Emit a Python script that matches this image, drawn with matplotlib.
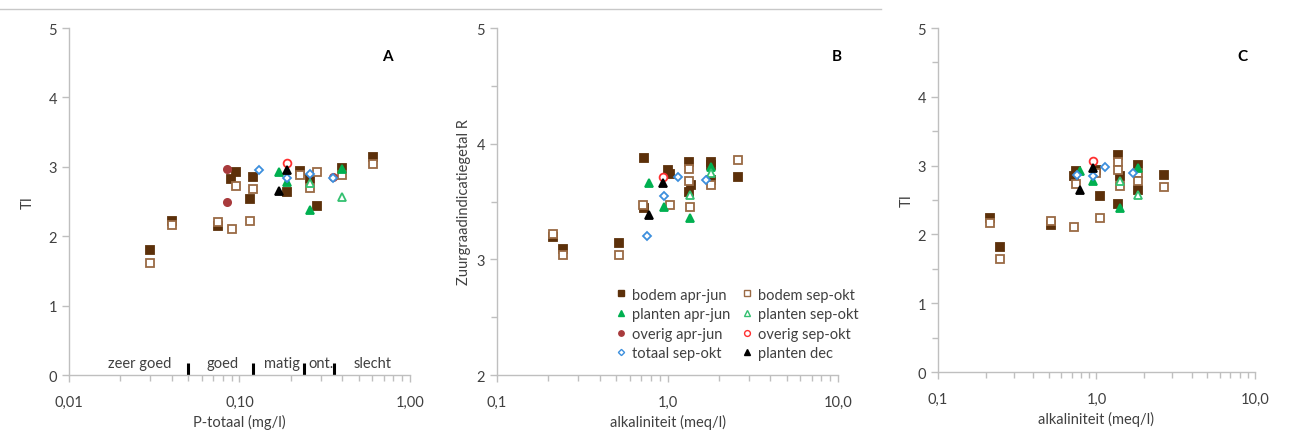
import matplotlib
matplotlib.use("Agg")
import matplotlib.pyplot as plt
from matplotlib.ticker import FixedLocator, MultipleLocator, LogLocator, NullFormatter
from matplotlib.lines import Line2D

plt.rcParams['font.family'] = ['Lato', 'DejaVu Sans']

# ---- panel A: P-totaal (mg/l) vs TI ----
a_bodem_aj_x = [0.030, 0.040, 0.0745, 0.115, 0.12, 0.095, 0.089, 0.19, 0.225, 0.283, 0.26, 0.398, 0.61]
a_bodem_aj_y = [1.80, 2.22, 2.14, 2.54, 2.85, 2.92, 2.82, 2.63, 2.94, 2.44, 2.83, 2.99, 3.14]
a_bodem_so_x = [0.030, 0.040, 0.0745, 0.090, 0.115, 0.12, 0.095, 0.225, 0.26, 0.283, 0.398, 0.61]
a_bodem_so_y = [1.62, 2.16, 2.20, 2.11, 2.22, 2.68, 2.73, 2.88, 2.69, 2.92, 2.88, 3.04]
a_plant_aj_x = [0.17, 0.19, 0.26, 0.398]
a_plant_aj_y = [2.92, 2.78, 2.38, 2.97]
a_plant_so_x = [0.26, 0.398]
a_plant_so_y = [2.76, 2.56]
a_overig_aj_x = [0.085, 0.085, 0.356]
a_overig_aj_y = [2.97, 2.50, 2.86]
a_overig_so_x = [0.19]
a_overig_so_y = [3.05]
a_totaal_x = [0.13, 0.19, 0.26, 0.356]
a_totaal_y = [2.96, 2.84, 2.90, 2.84]
a_plant_dec_x = [0.17, 0.19]
a_plant_dec_y = [2.65, 2.95]

# class boundaries P-totaal
klasse_grens = [0.05, 0.12, 0.24, 0.36]
klasse_namen = ['zeer goed', 'goed', 'matig', 'ont.', 'slecht']
klasse_pos = [0.026, 0.08, 0.178, 0.3, 0.6]

# ---- panel B: alkaliniteit vs zuurgraadindicatiegetal R ----
b_bodem_aj_x = [0.214, 0.245, 0.52, 0.73, 0.73, 1.0, 1.04, 1.34, 1.38, 1.34, 1.79, 1.79, 1.79, 2.6]
b_bodem_aj_y = [3.19, 3.09, 3.14, 3.88, 3.44, 3.77, 3.74, 3.84, 3.64, 3.58, 3.84, 3.82, 3.69, 3.71]
b_bodem_so_x = [0.214, 0.245, 0.52, 0.72, 1.04, 1.34, 1.34, 1.36, 1.79, 2.6]
b_bodem_so_y = [3.22, 3.04, 3.04, 3.47, 3.47, 3.78, 3.68, 3.45, 3.64, 3.86]
b_plant_aj_x = [0.78, 0.95, 1.36, 1.79]
b_plant_aj_y = [3.66, 3.45, 3.36, 3.80]
b_plant_so_x = [1.36, 1.79]
b_plant_so_y = [3.56, 3.75]
b_overig_aj_x = []
b_overig_aj_y = []
b_overig_so_x = [0.94]
b_overig_so_y = [3.71]
b_totaal_x = [0.76, 0.95, 1.15, 1.68]
b_totaal_y = [3.20, 3.55, 3.71, 3.69]
b_plant_dec_x = [0.78, 0.94]
b_plant_dec_y = [3.38, 3.66]

# ---- panel C: alkaliniteit vs TI ----
c_bodem_aj_x = [0.214, 0.245, 0.52, 0.74, 0.72, 1.0, 1.05, 1.37, 1.40, 1.37, 1.84, 1.84, 2.67]
c_bodem_aj_y = [2.24, 1.81, 2.14, 2.92, 2.85, 2.94, 2.56, 3.16, 2.85, 2.44, 3.01, 2.65, 2.86]
c_bodem_so_x = [0.214, 0.245, 0.52, 0.72, 0.74, 1.0, 1.05, 1.37, 1.37, 1.40, 1.84, 1.84, 2.67]
c_bodem_so_y = [2.17, 1.64, 2.19, 2.11, 2.74, 2.89, 2.24, 3.05, 2.93, 2.70, 2.89, 2.77, 2.69]
c_plant_aj_x = [0.79, 0.955, 1.40, 1.84]
c_plant_aj_y = [2.92, 2.77, 2.39, 2.97]
c_plant_so_x = [1.40, 1.84]
c_plant_so_y = [2.77, 2.57]
c_overig_aj_x = []
c_overig_aj_y = []
c_overig_so_x = [0.955]
c_overig_so_y = [3.06]
c_totaal_x = [0.75, 0.955, 1.14, 1.71]
c_totaal_y = [2.86, 2.85, 2.98, 2.89]
c_plant_dec_x = [0.79, 0.955]
c_plant_dec_y = [2.65, 2.97]

labels = ['bodem apr-jun', 'bodem sep-okt', 'planten apr-jun', 'planten sep-okt',
          'overig apr-jun', 'overig sep-okt', 'totaal sep-okt', 'planten dec']

# marker, face, edge, size
stijl = [
    ('s', '#5c300a', '#5c300a', 5.5),
    ('s', 'white', '#9a6a44', 5.5),
    ('^', '#00b050', '#00b050', 5.8),
    ('^', 'white', '#33c070', 5.8),
    ('o', '#a83a3c', '#a83a3c', 5.2),
    ('o', 'white', '#ff3030', 5.6),
    ('D', 'white', '#3c8fdd', 4.2),
    ('^', 'black', 'black', 5.8),
]

GRIJS = '#bfbfbf'
TEKST = '#404040'


def draw_series(ax, reeksen):
    for (x, y), lab, (m, fc, ec, ms) in zip(reeksen, labels, stijl):
        ax.plot(x, y, linestyle='none', marker=m, markerfacecolor=fc,
                markeredgecolor=ec, markersize=ms, markeredgewidth=1.3, label=lab)


def style_axes(ax, xlim, ylim, xfmt, ystep_minor):
    ax.set_xscale('log')
    ax.set_xlim(*xlim)
    ax.set_ylim(*ylim)
    for s in ['top', 'right']:
        ax.spines[s].set_visible(False)
    for s in ['left', 'bottom']:
        ax.spines[s].set_color(GRIJS)
        ax.spines[s].set_linewidth(1.0)
    decades = []
    v = xlim[0]
    while v <= xlim[1] * 1.0001:
        decades.append(v)
        v *= 10
    ax.xaxis.set_major_locator(FixedLocator(decades))
    ax.set_xticklabels([xfmt.format(d).replace('.', ',') for d in decades])
    ax.xaxis.set_minor_locator(LogLocator(base=10, subs=range(2, 10)))
    ax.xaxis.set_minor_formatter(NullFormatter())
    ax.yaxis.set_major_locator(MultipleLocator(1))
    if ystep_minor:
        ax.yaxis.set_minor_locator(MultipleLocator(ystep_minor))
    ax.tick_params(which='both', colors=GRIJS, labelcolor=TEKST, labelsize=10.5)
    ax.tick_params(which='major', length=5, width=1)
    ax.tick_params(which='minor', length=4, width=1)
    ax.tick_params(axis='x', which='major', pad=9)


fig = plt.figure(figsize=(12.9, 4.35), dpi=100)

axA = fig.add_axes([0.0535, 0.1356, 0.2643, 0.7977])
axB = fig.add_axes([0.3853, 0.1356, 0.2643, 0.7977])
axC = fig.add_axes([0.7271, 0.1425, 0.2457, 0.7908])

draw_series(axA, [(a_bodem_aj_x, a_bodem_aj_y), (a_bodem_so_x, a_bodem_so_y),
                  (a_plant_aj_x, a_plant_aj_y), (a_plant_so_x, a_plant_so_y),
                  (a_overig_aj_x, a_overig_aj_y), (a_overig_so_x, a_overig_so_y),
                  (a_totaal_x, a_totaal_y), (a_plant_dec_x, a_plant_dec_y)])
draw_series(axB, [(b_bodem_aj_x, b_bodem_aj_y), (b_bodem_so_x, b_bodem_so_y),
                  (b_plant_aj_x, b_plant_aj_y), (b_plant_so_x, b_plant_so_y),
                  (b_overig_aj_x, b_overig_aj_y), (b_overig_so_x, b_overig_so_y),
                  (b_totaal_x, b_totaal_y), (b_plant_dec_x, b_plant_dec_y)])
draw_series(axC, [(c_bodem_aj_x, c_bodem_aj_y), (c_bodem_so_x, c_bodem_so_y),
                  (c_plant_aj_x, c_plant_aj_y), (c_plant_so_x, c_plant_so_y),
                  (c_overig_aj_x, c_overig_aj_y), (c_overig_so_x, c_overig_so_y),
                  (c_totaal_x, c_totaal_y), (c_plant_dec_x, c_plant_dec_y)])

style_axes(axA, (0.01, 1.0), (0, 5), '{:.2f}', None)
style_axes(axB, (0.1, 10.0), (2, 5), '{:.1f}', 0.5)
style_axes(axC, (0.1, 10.0), (0, 5), '{:.1f}', 0.5)

# class boundaries on panel A
for g in klasse_grens:
    axA.plot([g, g], [0, 0.17], color='black', linewidth=2.2, solid_capstyle='butt', clip_on=False)
for naam, p in zip(klasse_namen, klasse_pos):
    axA.text(p, 0.17, naam, ha='center', va='center', fontsize=10.5, color=TEKST)

axA.set_xlabel('P-totaal (mg/l)', fontsize=10.5, color=TEKST, labelpad=4)
axA.set_ylabel('TI', fontsize=10.5, color=TEKST, labelpad=10)
axB.set_xlabel('alkaliniteit (meq/l)', fontsize=10.5, color=TEKST, labelpad=4)
axB.set_ylabel('Zuurgraadindicatiegetal R', fontsize=10.5, color=TEKST, labelpad=4)
axC.set_xlabel('alkaliniteit (meq/l)', fontsize=10.5, color=TEKST, labelpad=4)
axC.set_ylabel('TI', fontsize=10.5, color=TEKST, labelpad=3)

for ax, letter, lx in [(axA, 'A', 0.933), (axB, 'B', 0.997), (axC, 'C', 0.962)]:
    ax.text(lx, 0.919, letter, transform=ax.transAxes, ha='center', va='center',
            fontsize=11, fontweight='bold', color='black')

# legend in panel B
hs = []
for lab, (m, fc, ec, ms) in zip(labels, stijl):
    hs.append(Line2D([], [], linestyle='none', marker=m, markerfacecolor=fc,
                     markeredgecolor=ec, markersize=ms * 0.75, markeredgewidth=1.0, label=lab))
order = [0, 2, 4, 6, 1, 3, 5, 7]
axB.legend([hs[i] for i in order], [labels[i] for i in order], ncol=2, frameon=False,
           loc='lower right', bbox_to_anchor=(1.1, 0.005), fontsize=10.5,
           handlelength=0.8, handletextpad=0.4, columnspacing=0.7, labelspacing=0.38,
           labelcolor=TEKST)

# thin line on top
fig.add_artist(Line2D([0.0, 0.683], [0.977, 0.977], color='#c8c8c8', linewidth=1.0,
                      transform=fig.transFigure))

fig.savefig('out.png', dpi=100)
